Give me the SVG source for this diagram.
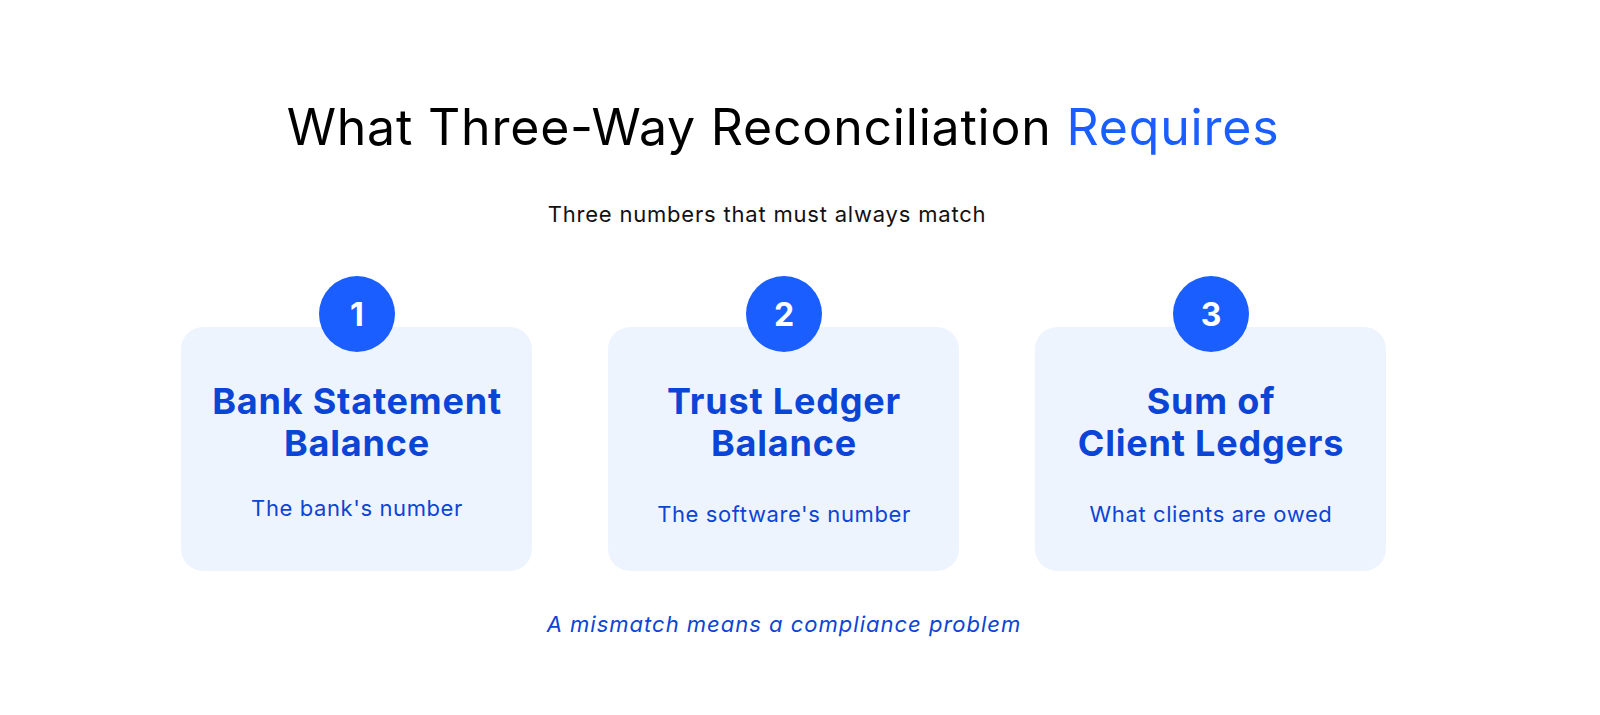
<svg xmlns="http://www.w3.org/2000/svg" width="1600" height="715" viewBox="0 0 1600 715">
<style>
text{font-family:Inter,"Open Sans",sans-serif;text-anchor:middle}
.card{fill:#EEF4FD}
.circ{fill:#1A5EFF}
.num{fill:#fff;font-size:32px;font-weight:700}
.h{fill:#0B45D6;font-size:36px;font-weight:700;letter-spacing:0.8px}
.s{fill:#0B45D6;font-size:22px;letter-spacing:0.6px}
</style>
<rect width="1600" height="715" fill="#fff"/>
<text x="783" y="145" font-size="50" fill="#000" letter-spacing="0.8">What Three-Way Reconciliation <tspan fill="#1A5EFF">Requires</tspan></text>
<text x="767" y="222" font-size="22" fill="#111" letter-spacing="0.8">Three numbers that must always match</text>
<g id="node1"><rect class="card" x="181" y="327" width="351" height="244" rx="22"/><circle class="circ" cx="357" cy="314" r="38"/><text class="num" x="357" y="326">1</text><text class="h" x="357" y="414">Bank Statement</text><text class="h" x="357" y="456">Balance</text><text class="s" x="357" y="516">The bank's number</text></g>
<g id="node2"><rect class="card" x="608" y="327" width="351" height="244" rx="22"/><circle class="circ" cx="784" cy="314" r="38"/><text class="num" x="784" y="326">2</text><text class="h" x="784" y="414">Trust Ledger</text><text class="h" x="784" y="456">Balance</text><text class="s" x="784" y="522">The software's number</text></g>
<g id="node3"><rect class="card" x="1035" y="327" width="351" height="244" rx="22"/><circle class="circ" cx="1211" cy="314" r="38"/><text class="num" x="1211" y="326">3</text><text class="h" x="1211" y="414">Sum of</text><text class="h" x="1211" y="456">Client Ledgers</text><text class="s" x="1211" y="522">What clients are owed</text></g>
<g id="connectors"></g>
<text x="784" y="632" font-size="22" font-style="italic" fill="#0B45D6" letter-spacing="1">A mismatch means a compliance problem</text>
</svg>
